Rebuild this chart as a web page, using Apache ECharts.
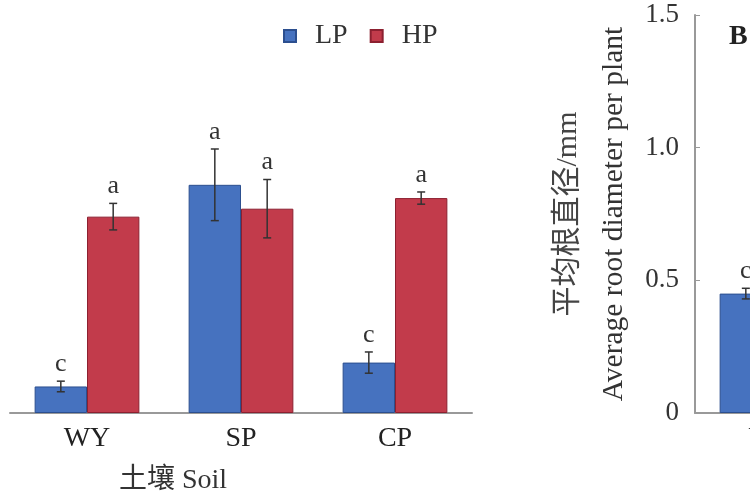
<!DOCTYPE html>
<html><head><meta charset="utf-8">
<script src="https://cdn.jsdelivr.net/npm/echarts@6/dist/echarts.min.js"></script>
<style>html,body{margin:0;padding:0;background:#fff}#c{width:750px;height:500px}</style>
</head><body><div id="c"></div>
<script>
// Panel A
const categories = ['WY', 'SP', 'CP'];
const lpMean = [0.10, 0.86, 0.19];
const lpErr = [0.02, 0.135, 0.04];
const lpLetter = ['c', 'a', 'c'];
const hpMean = [0.74, 0.77, 0.81];
const hpErr = [0.05, 0.11, 0.023];
const hpLetter = ['a', 'a', 'a'];
// Panel B (only its first bar is visible in the picture)
const bLpMean = [0.45];
const bLpErr = [0.02];
const bLpLetter = ['c'];
const bTicks = [0, 0.5, 1.0, 1.5];

const SERIF = "'Liberation Serif','Noto Sans CJK SC',serif";
const BLUE = '#4672bf', BLUE_D = '#2c4f8f';
const RED = '#c23b4b', RED_D = '#8c2030';

function errItem(side) {
  return function (params, api) {
    const x = api.value(0), m = api.value(1), e = api.value(2), t = api.value(3);
    const band = api.size([1, 0])[0];
    const off = side * band * 0.17;
    const c = api.coord([x, m]);
    const top = api.coord([x, m + e])[1];
    const bot = api.coord([x, m - e])[1];
    const cx = c[0] + off;
    const st = { stroke: '#333', lineWidth: 1.5 };
    return {
      type: 'group',
      children: [
        { type: 'line', shape: { x1: cx, y1: top, x2: cx, y2: bot }, style: st },
        { type: 'line', shape: { x1: cx - 4, y1: top, x2: cx + 4, y2: top }, style: st },
        { type: 'line', shape: { x1: cx - 4, y1: bot, x2: cx + 4, y2: bot }, style: st },
        { type: 'text', style: { text: t, x: cx, y: top - 4, align: 'center', verticalAlign: 'bottom',
          font: "26px " + SERIF, fill: '#333' } }
      ]
    };
  };
}
function errData(mean, err, letters) {
  return mean.map((m, i) => [i, m, err[i], letters[i]]);
}

const chart = echarts.init(document.getElementById('c'));
chart.setOption({
  animation: false,
  backgroundColor: '#fff',
  legend: {
    data: ['LP', 'HP'], left: 278, top: 17, itemWidth: 12, itemHeight: 12, itemGap: 22,
    icon: 'rect', formatter: '  {name}',
    textStyle: { fontFamily: SERIF, fontSize: 28, color: '#333' }
  },
  grid: [
    { left: 10, top: 15, width: 462, bottom: 87, outerBoundsMode: 'none', containLabel: false },
    { left: 695, top: 15, width: 462, bottom: 87, outerBoundsMode: 'none', containLabel: false }
  ],
  xAxis: [
    { type: 'category', gridIndex: 0, data: categories,
      axisLine: { lineStyle: { color: '#999', width: 2 } }, axisTick: { show: false },
      axisLabel: { fontFamily: SERIF, fontSize: 28, color: '#222', margin: 12 },
      name: '土壤 Soil', nameLocation: 'middle', nameGap: 54,
      nameTextStyle: { fontFamily: SERIF, fontSize: 28, color: '#333', padding: [0, 136, 0, 0] } },
    { type: 'category', gridIndex: 1, data: categories,
      axisLine: { lineStyle: { color: '#999', width: 2 } }, axisTick: { show: false },
      axisLabel: { fontFamily: SERIF, fontSize: 28, color: '#222', margin: 12 } }
  ],
  yAxis: [
    { type: 'value', gridIndex: 0, min: 0, max: 1.5, show: false, splitLine: { show: false } },
    { type: 'value', gridIndex: 1, min: 0, max: 1.5, interval: 0.5,
      axisLine: { show: true, lineStyle: { color: '#999', width: 2 } },
      axisTick: { show: true, inside: true, length: 5, lineStyle: { color: '#999' } },
      splitLine: { show: false },
      axisLabel: { fontFamily: SERIF, fontSize: 27, color: '#333', margin: 16,
        formatter: v => bTicks.indexOf(v) >= 0 ? (v === 0 ? '0' : v.toFixed(1)) : '' },
      name: '{cn|平均根直径/mm}\n{en|Average root diameter per plant}', nameLocation: 'middle', nameGap: 58,
      nameTextStyle: { color: '#333', rich: {
        cn: { fontFamily: SERIF, fontSize: 30, color: '#444', lineHeight: 46 },
        en: { fontFamily: SERIF, fontSize: 29.5, color: '#333', lineHeight: 46 } } } }
  ],
  series: [
    { name: 'LP', type: 'bar', xAxisIndex: 0, yAxisIndex: 0, data: lpMean, barWidth: '34%', barGap: '0%',
      itemStyle: { color: BLUE, borderColor: BLUE_D, borderWidth: 1 } },
    { name: 'HP', type: 'bar', xAxisIndex: 0, yAxisIndex: 0, data: hpMean, barWidth: '34%', barGap: '0%',
      itemStyle: { color: RED, borderColor: RED_D, borderWidth: 1 } },
    { type: 'custom', xAxisIndex: 0, yAxisIndex: 0, renderItem: errItem(-1), data: errData(lpMean, lpErr, lpLetter), z: 5 },
    { type: 'custom', xAxisIndex: 0, yAxisIndex: 0, renderItem: errItem(1), data: errData(hpMean, hpErr, hpLetter), z: 5 },
    { name: 'LP', type: 'bar', xAxisIndex: 1, yAxisIndex: 1, data: bLpMean, barWidth: '34%', barGap: '0%',
      itemStyle: { color: BLUE, borderColor: BLUE_D, borderWidth: 1 } },
    { name: 'HP', type: 'bar', xAxisIndex: 1, yAxisIndex: 1, data: [], barWidth: '34%', barGap: '0%',
      itemStyle: { color: RED, borderColor: RED_D, borderWidth: 1 } },
    { type: 'custom', xAxisIndex: 1, yAxisIndex: 1, renderItem: errItem(-1), data: errData(bLpMean, bLpErr, bLpLetter), z: 5 }
  ],
  graphic: [
    { type: 'text', left: 729, top: 23, style: { text: 'B', font: "bold 28px " + SERIF, fill: '#222' } }
  ]
});
</script></body></html>
